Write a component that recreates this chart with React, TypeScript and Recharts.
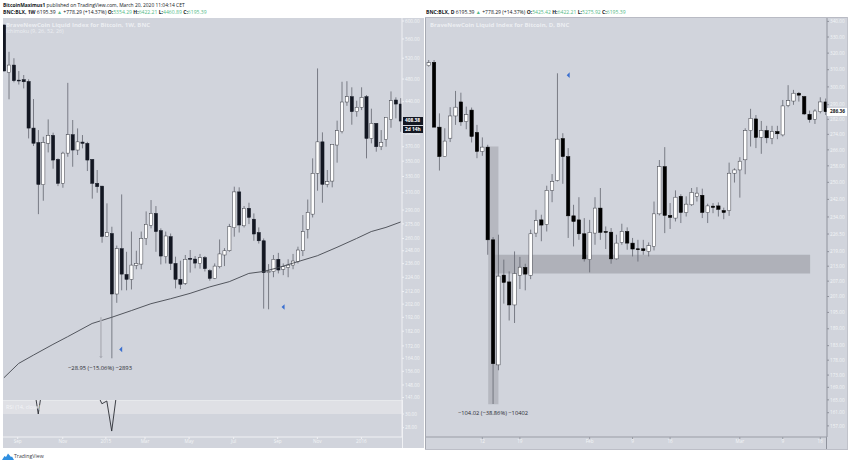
import React from 'react'
import { Bar, ComposedChart, Line, ReferenceArea, ReferenceDot, ReferenceLine, XAxis, YAxis } from 'recharts'

// weekly pane
const weekOpen = [591, 492.5, 506.5, 478, 478.8, 475.5, 397.5, 376, 319.8, 375, 386.5, 352.4, 321.4, 361, 387.5, 365.3, 376.7, 374.8, 352.4, 321.4, 318, 262, 265, 210, 250, 226.4, 222.2, 234.4, 235.6, 260, 273.5, 286.3, 268, 242.4, 261.8, 236.2, 222.2, 218.8, 240.9, 240.2, 236.2, 241.5, 229.7, 223, 233.2, 244, 248, 271, 311, 273, 292, 280, 266, 257.7, 228, 229, 240, 231, 232.6, 234.7, 237.8, 248, 269.3, 285.5, 334, 377, 320.2, 324.2, 372.4, 392, 439.4, 448.5, 423.4, 430.5, 448.5, 382, 404.8, 370, 380.6, 411, 442.8, 436]
const weekHigh = [591, 533, 520, 495, 487.5, 479.5, 444.5, 394.5, 384.5, 411, 390.5, 353.8, 363, 473, 410, 397, 387, 377, 352.4, 338.3, 318, 297.6, 272, 253, 308, 247, 267, 248, 267, 288.5, 301.4, 294.5, 270.3, 267, 265, 242.4, 238.7, 244, 248.7, 243, 245, 243, 231, 236.2, 259, 250.5, 275, 317.3, 316.5, 294.5, 298.3, 286.3, 271.3, 260, 235.6, 244, 246, 236.2, 240, 245, 251.9, 284.5, 302, 353.8, 500, 391, 338.3, 373.4, 409, 475, 476, 465, 441.6, 465, 451.4, 428.3, 404.8, 394.5, 414.2, 457.7, 447.4, 446]
const weekLow = [495, 444, 474, 470, 463, 382, 371, 285.5, 300.6, 362, 340, 318, 316, 356, 342.6, 358.4, 367.7, 337, 303, 310, 255.8, 261.8, 164, 203, 213, 213, 213.7, 231, 231, 253.5, 270.3, 247, 235.3, 236.2, 230.3, 214.6, 214, 217.4, 228, 231.8, 231.5, 229, 221, 222.4, 231.8, 233.8, 247, 261.8, 266, 271.3, 274.8, 257.7, 255, 198.5, 198, 224, 227.3, 225.8, 224, 231, 236.2, 243, 260, 281.9, 312.4, 298.3, 316.5, 316.5, 348, 389.5, 433, 402.7, 415.3, 426, 353.8, 374.8, 363, 365.3, 370, 398, 412.6, 392]
const weekClose = [495, 506.5, 477, 476.4, 475, 397.5, 375, 320, 376, 386.5, 351.5, 321.4, 361, 387.5, 365.3, 377, 374.8, 351.5, 321.4, 317.3, 262, 266, 210, 250, 226.7, 222.2, 234.7, 236.2, 260, 274.5, 286.3, 267, 243, 262.5, 236.2, 222.2, 218, 240, 240, 236.5, 241.5, 231.5, 223, 233.8, 245, 248, 272, 311, 273.8, 292, 282, 264.5, 257.7, 228, 229, 240, 230.3, 233.2, 234.7, 238.4, 248.7, 267, 287.5, 334, 377, 320.2, 323.4, 373.4, 393.5, 439.4, 448.5, 423.4, 430.5, 447.4, 382, 404.8, 370, 376.2, 414.2, 441.6, 436, 408.4]

// long moving average, read at a few weeks and joined
const maWeeks = [0, 3, 6, 10, 13, 18, 22, 26, 30, 34, 38, 42, 46, 50, 53, 56, 60, 64, 68, 72, 75, 78, 81]
const maValues = [152.2, 160.8, 166, 173, 178.2, 187.5, 192, 197, 202.3, 206.2, 210.5, 215.8, 220.2, 227.3, 229, 232.4, 237.8, 243.3, 251.3, 260, 267, 271.3, 277]

const rsiWeeks = [6, 7, 8, 19, 20, 21, 22, 23, 24]
const rsiValues = [34.7, 30, 34.7, 33, 31.5, 31.9, 27.5, 33, 40]

const weekPriceTicks = [600, 560, 520, 480, 440, 390, 370, 350, 330, 310, 290, 275, 260, 248, 236, 224, 212, 202, 192, 182, 172, 164, 156, 148, 141]
const rsiTicks = [30, 28]
const weekTickPos = [2.8, 12, 20.8, 28.8, 37.8, 46.9, 55.9, 64, 73]
const weekTickLabels = ['Sep', 'Nov', '2015', 'Mar', 'May', 'Jul', 'Sep', 'Nov', '2016']

// daily pane
const dayOpen = [312.4, 314.4, 277.8, 262.6, 272, 283.8, 291.5, 280.8, 287, 275, 265.2, 267.4, 224, 176.4, 209.4, 206.7, 197.8, 209.3, 212.5, 209.3, 226.9, 232.7, 230.7, 246.2, 250.9, 271.8, 262.6, 234.5, 232.7, 226.6, 215.7, 226.9, 238, 227.6, 227.3, 216, 222.9, 227.6, 222.6, 220.2, 220.2, 219.1, 221.2, 235.4, 257.6, 234.7, 233.5, 243.4, 236, 239.5, 243.4, 243.9, 236, 238.9, 239, 236.9, 236.9, 254.4, 256, 261, 276, 282.2, 272.5, 276, 271.8, 275.5, 273.7, 289.5, 292, 296.4, 294.5, 284.7, 282, 286.1, 291.5]
const dayHigh = [315.8, 315.8, 285.2, 277.2, 288.6, 297.7, 296.7, 288.9, 288.4, 279, 272.4, 268.6, 225.2, 226.2, 215.7, 210.9, 219.1, 216.8, 214, 228.4, 237.2, 235, 248.4, 254, 307.9, 274.6, 266.9, 239.5, 243, 233.5, 232.7, 243, 247.3, 229.8, 229.1, 226.2, 231, 229.4, 224.8, 224, 224, 222.9, 241, 260.9, 267.4, 240.3, 246.2, 244.4, 243.4, 247.3, 247.7, 247, 240, 240.3, 240.6, 238.2, 259.6, 256.8, 262.3, 277.2, 287.7, 284.3, 281.1, 278.5, 278.5, 278.5, 292.6, 301, 298.3, 297.1, 294.9, 286.7, 287.5, 294.1, 293.4]
const dayLow = [311.8, 277.8, 255.7, 262.6, 270, 279, 278.5, 276.7, 269.8, 261.8, 263, 217.7, 163.7, 174.6, 198.3, 192, 191.1, 203.9, 203.4, 207.8, 225.2, 223.4, 227.6, 240.7, 250.4, 249.3, 224.8, 221.2, 224, 214.9, 210.5, 221.9, 224, 220.1, 214, 215.7, 221.9, 219.8, 217, 214.9, 217.7, 217, 219.5, 234.7, 226.9, 228.7, 232, 231.3, 234.2, 239, 241, 233.5, 231.3, 235.7, 234.2, 233, 234.5, 249.9, 242.8, 253.9, 267.7, 266.9, 264, 269.4, 268.9, 271.5, 272.9, 288.6, 289.9, 291.7, 284.3, 280.2, 279.5, 285.2, 284.3]
const dayClose = [314.2, 277.8, 262.6, 270.5, 283.8, 288.6, 280.6, 284.5, 272.9, 265.2, 267.4, 224, 176.8, 209, 206.5, 197.8, 210, 212.6, 209.8, 226.6, 232.4, 230.4, 246.2, 250.4, 271.5, 262.6, 234.5, 232, 226.6, 216, 227.2, 238, 227.2, 227.2, 216, 222.6, 227.6, 222.6, 220.1, 219.8, 219.4, 221.5, 235.4, 257.6, 234.7, 233.8, 243, 236, 239.8, 245.2, 244.9, 236, 239, 238.3, 237.4, 236, 254.4, 256, 260.3, 276, 282.5, 272.4, 276, 272.2, 275.5, 274.3, 289.3, 292.2, 296.4, 295.3, 284.9, 281.8, 286.5, 291.5, 286.1]

const dayPriceTicks = [340, 330, 320, 310, 300, 290, 282, 274, 266, 258, 250, 242, 234, 226.5, 219, 213, 207, 201, 195, 189, 183, 178, 173, 169, 165, 161, 157]
const dayTickPos = [10, 17, 30, 38, 45, 58, 66, 73]
const dayTickLabels = ['12', '19', 'Feb', '9', '16', 'Mar', '9', '16']

const weekRows = weekOpen.map((open, i) => {
  const m = maWeeks.indexOf(i)
  return { i, open, close: weekClose[i], range: [weekLow[i], weekHigh[i]], ma: m >= 0 ? maValues[m] : null }
})
const dayRows = dayOpen.map((open, i) => ({ i, open, close: dayClose[i], range: [dayLow[i], dayHigh[i]] }))
const rsiRows = rsiWeeks.map((i, k) => ({ i, rsi: rsiValues[k] }))

const PANE = '#d1d4dc'
const FONT = '"Open Sans", sans-serif'
const TEAL = '#53b987'

function Candle(props: any) {
  const { x, y, width, height, payload, dark } = props
  const [lo, hi] = payload.range
  const at = (p: number) => y + (height * (Math.log(hi) - Math.log(p))) / (Math.log(hi) - Math.log(lo))
  const mid = x + width / 2
  const up = payload.close >= payload.open
  const top = at(Math.max(payload.open, payload.close))
  const bot = at(Math.min(payload.open, payload.close))
  return (
    <g>
      <line x1={mid} x2={mid} y1={y} y2={y + height} stroke="#62656e" strokeWidth={0.8} />
      <rect
        x={x}
        y={top}
        width={width}
        height={Math.max(bot - top, 0.8)}
        fill={up ? '#ffffff' : dark}
        stroke={up ? '#3a3c44' : dark}
        strokeWidth={0.5}
      />
    </g>
  )
}

function BlueMark(props: any) {
  const { cx, cy } = props
  return <path d={`M${cx - 1.8} ${cy} L${cx + 1.2} ${cy - 2.8} L${cx + 1.2} ${cy + 2.8} Z`} fill="#3a6fd0" />
}

function ArrowTip(props: any) {
  const { cx, cy } = props
  return <path d={`M${cx - 1.8} ${cy - 2} L${cx + 1.8} ${cy - 2} L${cx} ${cy} Z`} fill="#a9abb4" />
}

function Label({ x, y, children, color = '#ffffff', size = 5.4, weight = 400 }: any) {
  return (
    <div
      style={{
        position: 'absolute',
        left: x,
        top: y,
        color,
        fontSize: size,
        fontWeight: weight,
        fontFamily: FONT,
        lineHeight: '7px',
        whiteSpace: 'nowrap',
      }}
    >
      {children}
    </div>
  )
}

function Ohlc({ x, y, name, o, h, l }: any) {
  const val = { color: TEAL }
  return (
    <Label x={x} y={y} color="#131722" size={5.08}>
      <b>BNC:BLX, {name}</b> 6195.39 <span style={val}>▲</span> +778.29 (+14.37%) <b>O:</b>
      <span style={val}>{o}</span> <b>H:</b>
      <span style={val}>{h}</span> <b>L:</b>
      <span style={val}>{l}</span> <b>C:</b>
      <span style={val}>6195.39</span>
    </Label>
  )
}

const box = (left: number, top: number, width: number, height: number, background: string) => (
  <div style={{ position: 'absolute', left, top, width, height, background }} />
)

const axisTick = { fill: '#f3f4f7', fontSize: 4.7, fontFamily: FONT }

export default function App() {
  return (
    <div style={{ position: 'absolute', left: 0, top: 0, width: 850, height: 464, background: '#ffffff', overflow: 'hidden' }}>
      <Label x={3} y={2} color="#131722" size={4.9}>
        <b>BitcoinMaximus1</b> published on TradingView.com, March 20, 2020 11:04:14 CET
      </Label>
      <Ohlc x={3} y={9} name="1W" o="5354.29" h="6422.21" l="4460.89" />
      <Ohlc x={426} y={9} name="D" o="5425.42" h="6422.21" l="5275.92" />

      {box(3, 18, 421, 430, PANE)}
      {box(426, 18, 421, 431, PANE)}
      {box(425, 17, 1, 432, '#a6a9b2')}
      {box(425, 17, 423, 1, '#b9bbc4')}
      {box(425, 449, 423, 1, '#bcbec7')}
      {box(847, 17, 1, 432, '#c0c2ca')}
      {box(402, 400, 1, 48, '#f0f1f4')}
      {box(826, 437, 1, 12, '#8f929c')}

      <div style={{ position: 'absolute', left: 0, top: 0 }}>
        <ComposedChart width={425} height={400} data={weekRows} margin={{ top: 18, left: 3, right: 0, bottom: 0 }}>
          <XAxis dataKey="i" type="number" domain={[-0.2, 81.28]} allowDataOverflow hide />
          <YAxis
            orientation="right"
            width={23}
            scale="log"
            domain={[139.7, 607]}
            allowDataOverflow
            ticks={weekPriceTicks}
            interval={0}
            tick={axisTick}
            tickSize={2}
            tickMargin={1}
            tickFormatter={(v: number) => v.toFixed(2)}
            stroke="#f0f1f4"
          />
          <Bar dataKey="range" barSize={3.2} isAnimationActive={false} shape={(p: any) => <Candle {...p} dark="#131722" />} />
          <Line dataKey="ma" type="linear" connectNulls dot={false} stroke="#44474f" strokeWidth={0.9} isAnimationActive={false} />
          <ReferenceLine segment={[{ x: 19.8, y: 192 }, { x: 19.8, y: 164.5 }]} stroke="#b3b5bd" strokeWidth={1.6} />
          <ReferenceDot x={19.8} y={164} r={2} shape={ArrowTip} />
          <ReferenceDot x={23.9} y={169.7} r={2} shape={BlueMark} />
          <ReferenceDot x={57.05} y={199.8} r={2} shape={BlueMark} />
        </ComposedChart>
      </div>

      <div style={{ position: 'absolute', left: 0, top: 400 }}>
        <ComposedChart width={425} height={49} data={rsiRows} margin={{ top: 0, left: 3, right: 0, bottom: 0 }}>
          <XAxis
            dataKey="i"
            type="number"
            domain={[-0.2, 81.28]}
            allowDataOverflow
            ticks={weekTickPos}
            interval={0}
            height={12}
            tick={axisTick}
            tickSize={2}
            tickMargin={1}
            tickFormatter={(v: number) => weekTickLabels[weekTickPos.indexOf(v)]}
            stroke="#f0f1f4"
          />
          <YAxis
            orientation="right"
            width={23}
            domain={[26.63, 32.05]}
            allowDataOverflow
            ticks={rsiTicks}
            interval={0}
            tick={axisTick}
            tickSize={2}
            tickMargin={1}
            tickFormatter={(v: number) => v.toFixed(2)}
            stroke="#f0f1f4"
          />
          <ReferenceArea y1={30} y2={32.05} fill="#dfe0e5" fillOpacity={1} stroke="none" />
          <ReferenceLine y={32.05} stroke="#f0f1f4" />
          <Line dataKey="rsi" type="linear" dot={false} stroke="#2a2c33" strokeWidth={0.9} isAnimationActive={false} />
        </ComposedChart>
      </div>

      <div style={{ position: 'absolute', left: 426, top: 0 }}>
        <ComposedChart width={422} height={449} data={dayRows} margin={{ top: 18, left: 0, right: 0, bottom: 0 }}>
          <XAxis
            dataKey="i"
            type="number"
            domain={[-0.5, 74.25]}
            allowDataOverflow
            ticks={dayTickPos}
            interval={0}
            height={12}
            tick={axisTick}
            tickSize={2}
            tickMargin={1}
            tickFormatter={(v: number) => dayTickLabels[dayTickPos.indexOf(v)]}
            stroke="#9a9da6"
          />
          <YAxis
            orientation="right"
            width={21}
            scale="log"
            domain={[153.7, 342.2]}
            allowDataOverflow
            ticks={dayPriceTicks}
            interval={0}
            tick={axisTick}
            tickSize={2}
            tickMargin={1}
            tickFormatter={(v: number) => v.toFixed(2)}
            stroke="#8f929c"
          />
          <ReferenceArea x1={12.25} x2={71.1} y1={210} y2={217.7} fill="#a3a5ae" fillOpacity={0.75} stroke="none" />
          <ReferenceArea x1={11.1} x2={13} y1={163.6} y2={267.7} fill="#a3a5ae" fillOpacity={0.6} stroke="none" />
          <Bar dataKey="range" barSize={3.4} isAnimationActive={false} shape={(p: any) => <Candle {...p} dark="#000000" />} />
          <ReferenceDot x={26.06} y={306.8} r={2} shape={BlueMark} />
        </ComposedChart>
      </div>

      <Label x={6} y={21.5} color="#eceef2" size={6} weight={700}>BraveNewCoin Liquid Index for Bitcoin, 1W, BNC</Label>
      <Label x={6} y={28} color="#eceef2" size={5.4}>Ichimoku (9, 26, 52, 26)</Label>
      <Label x={6} y={404} color="#f3f4f7" size={5.4}>RSI (14, close)</Label>
      <Label x={430} y={21.5} color="#eceef2" size={6} weight={700}>BraveNewCoin Liquid Index for Bitcoin, D, BNC</Label>

      <Label x={68} y={365} color="#2a2c33" size={5.8}>−28.95 (−15.06%) −2893</Label>
      <Label x={458} y={409.5} color="#2a2c33" size={5.75}>−104.02 (−38.86%) −10402</Label>

      {box(403, 117, 20, 7.5, '#131722')}
      {box(403, 125.5, 20, 7, '#131722')}
      <Label x={405} y={117} weight={700} size={4.8}>408.38</Label>
      <Label x={405} y={125.5} weight={700} size={4.8}>2d 14h</Label>
      {box(827, 108, 20, 7.5, '#ffffff')}
      <Label x={830} y={108.2} color="#131722" weight={700} size={4.8}>286.36</Label>

      <svg width={12} height={8} style={{ position: 'absolute', left: 2, top: 453 }}>
        <path d="M0 7 L2.5 3 L4 4 L6 0.5 L9 4 L10 3.5 L12 7 Z" fill="#2f8fe0" />
      </svg>
      <Label x={14} y={453} color="#3b3e47" size={5.2}>TradingView</Label>
    </div>
  )
}
